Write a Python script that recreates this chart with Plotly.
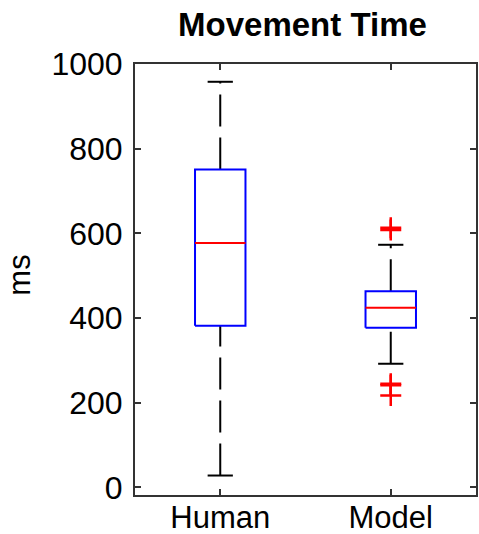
import plotly.graph_objects as go

# ---- data ----
categories = ["Human", "Model"]
q1 = [382, 377]
medians = [577, 424]
q3 = [751, 463]
lower_whisker = [28, 292]
upper_whisker = [958, 573]
outlier_group = ["Model", "Model", "Model", "Model", "Model"]
outlier_values = [608, 613, 241, 245, 217]
y_ticks = [0, 200, 400, 600, 800, 1000]
y_label = "ms"
title_text = "Movement Time"

# ---- style ----
FONT = "Arial, Liberation Sans, sans-serif"
BOX_HALF = 0.148
CAP_HALF = 0.074
LW = 2
W, H = 479, 534

pos = {c: i + 1 for i, c in enumerate(categories)}
fig = go.Figure()

for i, c in enumerate(categories):
    x0 = pos[c]
    # whiskers (drawn from lower to upper value, dashed)
    fig.add_trace(go.Scatter(x=[x0, x0], y=[lower_whisker[i], q1[i]], mode="lines",
                             line=dict(color="black", width=LW, dash="32px,11px"),
                             hoverinfo="skip", showlegend=False))
    fig.add_trace(go.Scatter(x=[x0, x0], y=[q3[i], upper_whisker[i]], mode="lines",
                             line=dict(color="black", width=LW, dash="32px,11px"),
                             hoverinfo="skip", showlegend=False))
    # caps
    for v in (lower_whisker[i], upper_whisker[i]):
        fig.add_trace(go.Scatter(x=[x0 - CAP_HALF, x0 + CAP_HALF], y=[v, v], mode="lines",
                                 line=dict(color="black", width=LW),
                                 hoverinfo="skip", showlegend=False))
    # box
    fig.add_trace(go.Scatter(
        x=[x0 - BOX_HALF, x0 + BOX_HALF, x0 + BOX_HALF, x0 - BOX_HALF, x0 - BOX_HALF],
        y=[q1[i], q1[i], q3[i], q3[i], q1[i]], mode="lines",
        line=dict(color="#0000FF", width=LW), hoverinfo="skip", showlegend=False))
    # median
    fig.add_trace(go.Scatter(x=[x0 - BOX_HALF, x0 + BOX_HALF], y=[medians[i], medians[i]],
                             mode="lines", line=dict(color="#FF0000", width=LW),
                             hoverinfo="skip", showlegend=False))

# outliers
fig.add_trace(go.Scatter(x=[pos[g] for g in outlier_group], y=outlier_values, mode="markers",
                         marker=dict(symbol="cross-thin", size=15, color="#FF0000",
                                     line=dict(color="#FF0000", width=2.5)),
                         hoverinfo="skip", showlegend=False))

fig.update_layout(
    width=W, height=H,
    margin=dict(l=135, r=3, t=64, b=39),
    paper_bgcolor="white", plot_bgcolor="white",
    font=dict(family=FONT, color="black", size=31),
    title=dict(text=title_text, x=0.491, xanchor="center",
               xref="paper", yref="container", y=1 - 24 / H, yanchor="middle",
               font=dict(family=FONT, size=33, color="black", weight="bold")),
    annotations=[dict(text=y_label, textangle=-90, xref="paper", x=0, xshift=-115,
                      xanchor="center", yref="y", y=500, yanchor="middle",
                      showarrow=False, font=dict(family=FONT, size=31, color="black"))],
)

fig.update_xaxes(range=[0.5, 2.5], tickmode="array", tickvals=[pos[c] for c in categories],
                 ticktext=categories, ticks="inside", ticklen=6, tickwidth=1.5,
                 tickcolor="#333", showline=True, linecolor="#333", linewidth=2,
                 mirror="ticks", showgrid=False, zeroline=False, automargin=False,
                 ticklabelstandoff=-6,
                 tickfont=dict(size=31, family=FONT, color="black"))
fig.update_yaxes(range=[-18, 1000], tickmode="array", tickvals=y_ticks,
                 ticks="inside", ticklen=6, tickwidth=1.5, tickcolor="#333",
                 showline=True, linecolor="#333", linewidth=2, mirror="ticks",
                 showgrid=False, zeroline=False, automargin=False,
                 ticklabelstandoff=4,
                 tickfont=dict(size=32, family=FONT, color="black"))

fig.write_html("out.html",
               config={"displayModeBar": False},
               post_script="document.body.style.margin='0';document.body.style.overflow='hidden';")
